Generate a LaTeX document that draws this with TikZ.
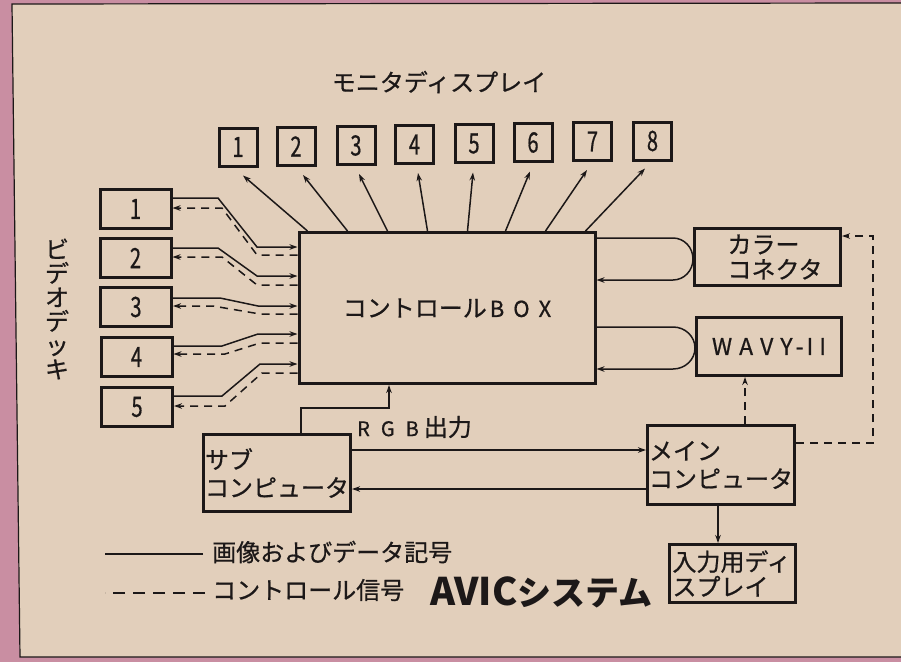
\documentclass[tikz,border=0pt]{standalone}
\usepackage{fontspec}
\usepackage{graphicx}
\newfontfamily\jp{Noto Sans CJK JP}[FakeBold=0.7]
\newfontfamily\jpb{Noto Sans CJK JP}
\usetikzlibrary{arrows.meta,calc}
\definecolor{paper}{RGB}{226,207,187}
\definecolor{pinkedge}{RGB}{201,142,162}
\definecolor{ink}{RGB}{28,24,24}
\newcommand\dg[1]{\scalebox{0.72}[1]{#1}}
\begin{document}
\begin{tikzpicture}[x=1pt,y=-1pt,color=ink,
  box/.style={draw=ink,line width=3pt,inner sep=0pt,font=\jp\fontsize{24}{25}\selectfont,text=ink},
  num/.style={font=\jp\fontsize{28}{28}\selectfont},
  sig/.style={draw=ink,line width=1.5pt},
  ctl/.style={draw=ink,line width=1.5pt,dash pattern=on 8pt off 6pt},
  tip/.style={-{Stealth[length=8pt,width=5.5pt]}},
  lbl/.style={font=\jp\fontsize{24}{25}\selectfont,inner sep=0pt,text=ink}
]
\useasboundingbox (0,0) rectangle (901,662);
% paper and frame
\fill[pinkedge] (0,0) rectangle (901,662);
\fill[paper] (12,4) -- (901,3) -- (901,657) -- (20,657) -- cycle;
\draw[ink,line width=1.2pt] (901,3) -- (12,4) -- (20,657) -- (901,657);

% title
\node[lbl] (title) at (439,82) {モニタディスプレイ};

% monitors
\foreach \i/\x/\y in {1/238/147,2/296/146.5,3/356/145.5,4/414.5/144.5,5/474/143.5,6/533/142.5,7/592.5/141.5,8/652.5/141}
  \node[box,num,minimum width=38pt,minimum height=38pt] (m\i) at (\x,\y) {\dg{\i}};

% control box
\node[box,minimum width=296pt,minimum height=151pt] (ctrl) at (447,308)
  {コントロール\hspace{3pt}{\fontsize{22}{22}\selectfont B\hspace{9pt}O\hspace{9pt}X}};

% monitor arrows
\foreach \i/\s/\dx/\dy in {1/10/5/8,2/50/7/8,3/90/3/8,4/130/3.5/8,5/170/-1/8.5,6/208/-3/8.5,7/248/-5.5/8,8/288/-7.5/7}
  \draw[sig,tip] ([xshift=\s pt]ctrl.north west) -- ([xshift=\dx pt,yshift=-\dy pt]m\i.south);

% video decks
\foreach \i/\x/\y in {1/135.5/209,2/135.5/258,3/136/307,4/136.5/357,5/137/407}
  \node[box,num,minimum width=71pt,minimum height=39pt] (d\i) at (\x,\y) {\dg{\i}};
\node[lbl,align=center,font=\jp\fontsize{24}{24}\selectfont] (vd) at (57,309) {ビ\\デ\\オ\\デ\\ッ\\キ};

% deck connectors
\draw[sig,tip] ([yshift=11pt]d1.east) -- (218,198) -- (257,247) -- ([yshift=-16pt]ctrl.north west);
\draw[ctl,tip] ([yshift=-24pt]ctrl.north west) -- (257,255) -- (222,208) -- ([yshift=1pt]d1.east);
\draw[sig,tip] ([yshift=10pt]d2.east) -- (218,248) -- (257,276) -- ([yshift=-45pt]ctrl.north west);
\draw[ctl,tip] ([yshift=-54pt]ctrl.north west) -- (257,285) -- (222,257) -- ([yshift=1pt]d2.east);
\draw[sig,tip] ([yshift=9pt]d3.east) -- (220,298) -- (258,306) -- ([yshift=-75pt]ctrl.north west);
\draw[ctl,tip] ([yshift=-83pt]ctrl.north west) -- (260,314) -- (213,306) -- ([yshift=1pt]d3.east);
\draw[sig,tip] ([yshift=11pt]d4.east) -- (222,346) -- (258,334) -- ([yshift=-103pt]ctrl.north west);
\draw[ctl,tip] ([yshift=-112pt]ctrl.north west) -- (260,343) -- (225,354) -- ([yshift=3pt]d4.east);
\draw[sig,tip] ([yshift=11pt]d5.east) -- (222,396) -- (260,364) -- ([yshift=-133pt]ctrl.north west);
\draw[ctl,tip] ([yshift=-142pt]ctrl.north west) -- (262,373) -- (225,406) -- ([yshift=1pt]d5.east);

% right side boxes
\node[box,minimum width=146pt,minimum height=57pt,text width=80pt,align=left] (col) at (767.5,257) {カラー\\コネクタ};
\node[box,minimum width=145pt,minimum height=58pt] (wavy) at (769,346.5)
  {{\fontsize{23}{23}\selectfont W\hspace{7pt}A\hspace{7pt}V\hspace{7pt}Y\hspace{3pt}-\hspace{3pt}I\hspace{6pt}I}};

\draw[sig,tip] ([yshift=-7pt]ctrl.north east) -- (673,238) arc[start angle=90,end angle=-90,x radius=20pt,y radius=21pt] -- ([yshift=-49pt]ctrl.north east);
\draw[sig,tip] ([yshift=-96pt]ctrl.north east) -- (673,327) arc[start angle=90,end angle=-90,x radius=22pt,y radius=21pt] -- ([yshift=-138pt]ctrl.north east);

% computers
\node[box,minimum width=147pt,minimum height=77pt,text width=144pt,align=left,font=\jp\fontsize{24}{28}\selectfont] (sub) at (277,473) {サブ\\コンピュータ};
\node[box,minimum width=147pt,minimum height=79pt,text width=144pt,align=left,font=\jp\fontsize{24}{28}\selectfont] (main) at (721,465) {メイン\\コンピュータ};
\node[box,minimum width=126pt,minimum height=58pt,text width=120pt,align=left] (inp) at (732.5,573.5) {入力用ディ\\スプレイ};

\draw[sig,tip] ([xshift=24pt]sub.north) |- (389,408) -- ([xshift=-58pt]ctrl.south);
\node[lbl,anchor=west] (rgb) at (357,427) {{\fontsize{20}{20}\selectfont R\hspace{11pt}G\hspace{11pt}B}\hspace{5pt}出力};

\draw[sig,tip] ([yshift=23pt]sub.east) -- ([yshift=23pt]sub.east -| main.west);
\draw[sig,tip] ([yshift=-24pt]main.west) -- ([yshift=-24pt]main.west -| sub.east);
\draw[sig,tip] ([xshift=-3pt]main.south) -- ([xshift=-3pt]main.south |- inp.north);

\draw[ctl,tip] ([xshift=24pt]main.north) -- ([xshift=24pt]main.north |- wavy.south);
\draw[ctl,tip] ([yshift=22pt]main.east) -| (873,236) -- ([yshift=21pt]col.east);

% legend
\node[lbl,anchor=west] (lg1) at (212,552) {画像およびデータ記号};
\node[lbl,anchor=west] (lg2) at (212,590) {コントロール信号};
\draw[sig] ([xshift=-9pt,yshift=-2pt]lg1.west) -- ++(-98,0);
\draw[ink,line width=1.5pt,dash pattern=on 12pt off 8pt] ([xshift=-7pt,yshift=-3pt]lg2.west) -- ++(-100,0);

\node[anchor=west,inner sep=0pt,text=ink,font=\jpb\bfseries] (avic) at (430,592)
  {{\fontsize{38}{38}\selectfont AVIC}{\fontsize{34}{34}\selectfont システム}};
\end{tikzpicture}
\end{document}
